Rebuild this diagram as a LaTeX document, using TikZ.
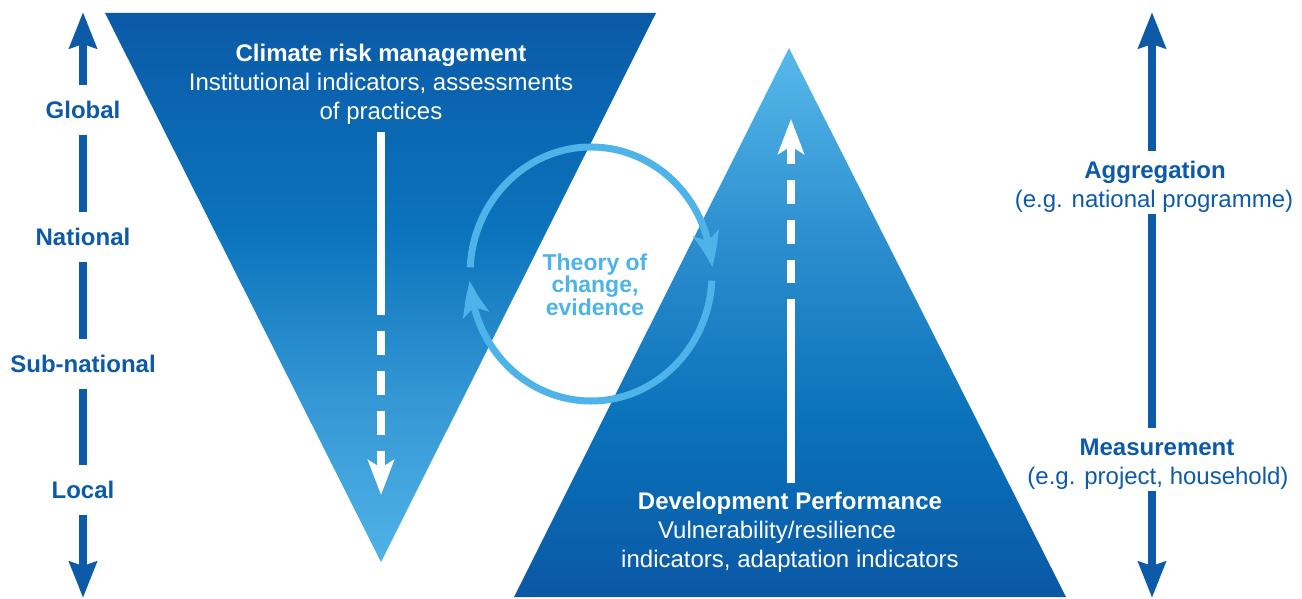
\documentclass[tikz,border=0pt]{standalone}
\usepackage{fontspec}
\setmainfont{Liberation Sans}
\usetikzlibrary{arrows.meta,bending}
\definecolor{axisblue}{HTML}{0C5AA8}
\definecolor{cycblue}{HTML}{4DB3E8}
\definecolor{ia}{HTML}{4FB2E6}
\definecolor{ib}{HTML}{3497D4}
\definecolor{ic}{HTML}{0B74BC}
\definecolor{id}{HTML}{0B5AA7}
\definecolor{ua}{HTML}{0B58A5}
\definecolor{ub}{HTML}{0A72BA}
\definecolor{uc}{HTML}{2D8FCF}
\definecolor{ud}{HTML}{57B9EA}
\pgfdeclareverticalshading{invtri}{100bp}{color(0bp)=(ia); color(25bp)=(ia); color(40bp)=(ib); color(55bp)=(ic); color(75bp)=(id); color(100bp)=(id)}
\pgfdeclareverticalshading{uptri}{100bp}{color(0bp)=(ua); color(25bp)=(ua); color(41bp)=(ub); color(58bp)=(uc); color(75bp)=(ud); color(100bp)=(ud)}
\begin{document}
\begin{tikzpicture}[x=1pt,y=1pt,
  lab/.style={font=\bfseries\fontsize{24}{29}\selectfont, text=axisblue, inner sep=0pt, text height=17pt, text depth=0pt},
  sidelab/.style={lab, minimum height=50pt},
  ttl/.style={lab, minimum height=38pt},
  sublab/.style={font=\fontsize{24}{29}\selectfont, text=axisblue, inner sep=0pt, text height=17pt, text depth=0pt, minimum height=30pt},
  axis/.style={draw=axisblue, line width=8pt},
  axtip/.tip={Stealth[length=36pt,width=27pt,inset=4pt]},
  whtip/.tip={Stealth[length=35pt,width=26pt,inset=8pt]},
  cyctip/.tip={Stealth[length=35pt,width=26pt,inset=8pt,bend]},
  wline/.style={draw=white, line width=8pt},
  cycline/.style={draw=cycblue, line width=7pt},
  boldw/.style={font=\bfseries\fontsize{24}{29}\selectfont, text=white, inner sep=0pt},
  regw/.style={font=\fontsize{24}{29}\selectfont, text=white, inner sep=0pt, align=center}
]
\useasboundingbox (0,0) rectangle (1302,-599);

% triangles
\shade[shading=invtri] (105,-13) -- (656,-13) -- (381,-562) -- cycle;
\shade[shading=uptri] (789,-48) -- (1066,-597) -- (514,-597) -- cycle;

% left axis
\coordinate (ltop) at (83,-12);
\coordinate (lbot) at (83,-598);
\node[sidelab] (glob) at (83,-110) {Global};
\node[sidelab] (natl) at (83,-237) {National};
\node[sidelab] (subn) at (83,-364) {Sub-national};
\node[sidelab] (locl) at (83,-490) {Local};
\draw[axis, axtip-] (ltop) -- (glob.north);
\draw[axis] (glob.south) -- (natl.north);
\draw[axis] (natl.south) -- (subn.north);
\draw[axis] (subn.south) -- (locl.north);
\draw[axis, -axtip] (locl.south) -- (lbot);

% right axis
\coordinate (rtop) at (1152,-12);
\coordinate (rbot) at (1152,-598);
\node[ttl] (agg) at (1155,-170) {Aggregation};
\node[sublab] (aggs) at (1154,-199) {(e.g. national programme)};
\node[ttl] (meas) at (1157,-447) {Measurement};
\node[sublab] (meass) at (1158,-476) {(e.g. project, household)};
\draw[axis, axtip-] (rtop) -- (rtop |- agg.north);
\draw[axis] (rtop |- aggs.south) -- (rtop |- meas.north);
\draw[axis, -axtip] (rtop |- meass.south) -- (rbot);

% texts in triangles
\node[boldw, anchor=base] (crm) at (381,-61.6) {Climate risk management};
\node[regw, anchor=north] (crmb) at (381,-73.3) {Institutional indicators, assessments\\of practices};
\node[boldw, anchor=base] (dev) at (790,-509.6) {Development Performance};
\node[regw, anchor=north] (devb) at (790,-521.3) {Vulnerability/resilience\hspace*{26pt}\\indicators, adaptation indicators};

% down arrow
\coordinate (a1) at (381,-132);
\coordinate (a2) at (381,-315);
\coordinate (a3) at (381,-331);
\coordinate (a4) at (381,-495);
\draw[wline] (a1) -- (a2);
\draw[wline, dash pattern=on 24pt off 16pt, -whtip] (a3) -- (a4);

% up arrow
\coordinate (b1) at (791,-483);
\coordinate (b2) at (791,-299);
\coordinate (b3) at (791,-283);
\coordinate (b4) at (791,-119);
\draw[wline] (b1) -- (b2);
\draw[wline, dash pattern=on 23.5pt off 16pt, -whtip] (b3) -- (b4);

% cycle
\coordinate (cyc) at (591,-274);
\node[font=\bfseries\fontsize{23}{22.5}\selectfont, text=cycblue, align=center, inner sep=0pt] (toc) at (595,-284.5) {Theory of\\change,\\evidence};
\draw[cycline, -cyctip] ([shift={(177:121pt and 127pt)}]cyc) arc[start angle=177, end angle=3, x radius=121pt, y radius=127pt];
\draw[cycline, -cyctip] ([shift={(-3:121pt and 127pt)}]cyc) arc[start angle=-3, end angle=-177, x radius=121pt, y radius=127pt];
\end{tikzpicture}
\end{document}
